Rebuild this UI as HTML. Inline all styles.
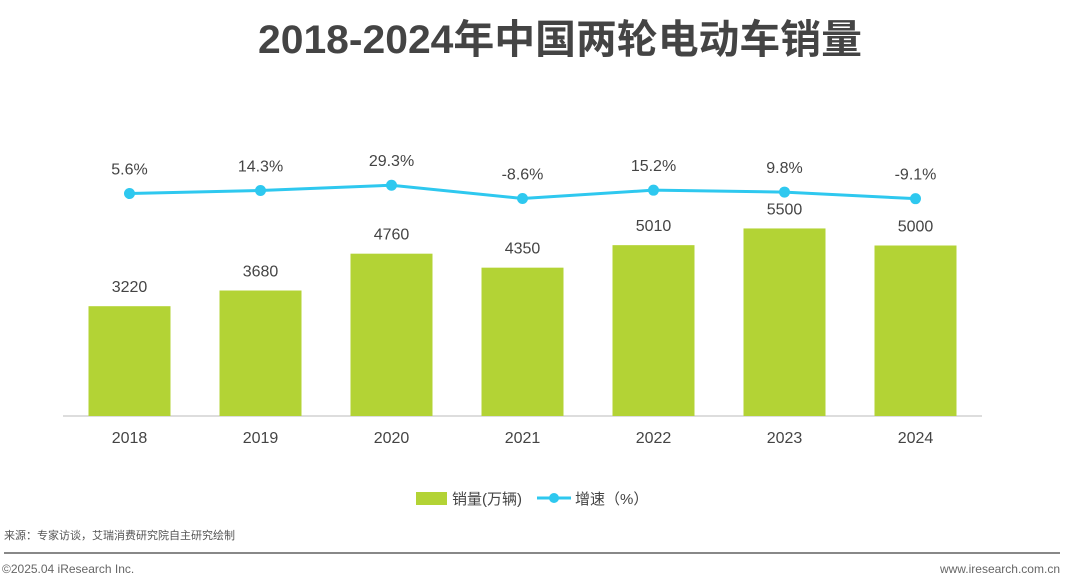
<!DOCTYPE html>
<html><head><meta charset="utf-8"><style>
body{margin:0;width:1080px;height:582px;background:#fff;overflow:hidden;font-family:"Liberation Sans","Noto Sans CJK SC",sans-serif;}
</style></head><body>
<svg id="c" width="1080" height="582" style="position:absolute;left:0;top:0">
<text x="560" y="53" text-anchor="middle" font-size="40" font-weight="bold" fill="#444" textLength="604" lengthAdjust="spacingAndGlyphs">2018-2024年中国两轮电动车销量</text>
<line x1="63" y1="416" x2="982" y2="416" stroke="#bbb" stroke-width="1"/>
<g id="bars"></g><g id="line"></g>
<g>
<rect x="416" y="492" width="31" height="13" fill="#b3d335"/>
<text x="452" y="504" font-size="15" fill="#444">销量(万辆)</text>
<line x1="537" y1="498" x2="571" y2="498" stroke="#2ec8ef" stroke-width="3"/>
<circle cx="554" cy="498" r="5" fill="#2ec8ef"/>
<text x="575" y="504" font-size="15" fill="#444">增速（%）</text>
</g>
<text x="4" y="539" font-size="11" fill="#555">来源：专家访谈，艾瑞消费研究院自主研究绘制</text>
<line x1="4" y1="553" x2="1060" y2="553" stroke="#888" stroke-width="2"/>
<text x="2" y="573" font-size="12" fill="#666">©2025.04 iResearch Inc.</text>
<text x="1060" y="573" font-size="12" fill="#666" text-anchor="end">www.iresearch.com.cn</text>
</svg>
<script>
const years=["2018","2019","2020","2021","2022","2023","2024"];
const sales=[3220,3680,4760,4350,5010,5500,5000];
const growth=[5.6,14.3,29.3,-8.6,15.2,9.8,-9.1];
const growthLabels=["5.6%","14.3%","29.3%","-8.6%","15.2%","9.8%","-9.1%"];
const NS="http://www.w3.org/2000/svg";
function xC(i){return 129.5+i*131;}
function yS(v){return 416-v*0.0341;}
function yG(v){return 195.5-v*0.35;}
function mk(t,a,p){const e=document.createElementNS(NS,t);for(const k in a)e.setAttribute(k,a[k]);p.appendChild(e);return e;}
const bg=document.getElementById('bars'),lg=document.getElementById('line');
years.forEach((y,i)=>{
 const r=mk('rect',{x:xC(i)-41,y:yS(sales[i]),width:82,height:416-yS(sales[i]),fill:'#b3d335'},bg);
 
 
 const t=mk('text',{x:xC(i),y:yS(sales[i])-14,'text-anchor':'middle','font-size':16,fill:'#444'},bg);t.textContent=sales[i];
 
 
 const xl=mk('text',{x:xC(i),y:443,'text-anchor':'middle','font-size':16,fill:'#444'},bg);xl.textContent=y;
 
 
});
const pl=mk('polyline',{points:years.map((y,i)=>xC(i)+','+yG(growth[i])).join(' '),fill:'none',stroke:'#2ec8ef','stroke-width':3},lg);


years.forEach((y,i)=>{
 const c=mk('circle',{cx:xC(i),cy:yG(growth[i]),r:5.5,fill:'#2ec8ef'},lg);
 
 
 const t=mk('text',{x:xC(i),y:yG(growth[i])-19,'text-anchor':'middle','font-size':16,fill:'#444'},lg);t.textContent=growthLabels[i];
 
 
});
</script>
</body></html>
